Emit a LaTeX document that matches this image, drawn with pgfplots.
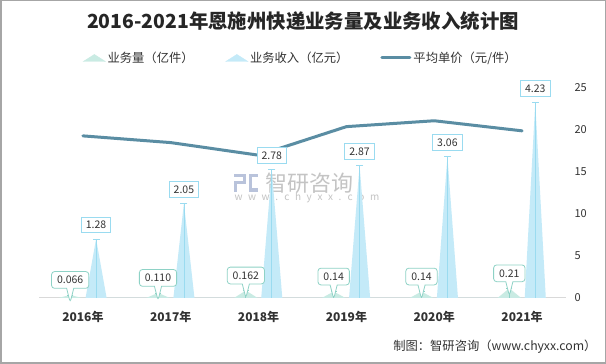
\documentclass[border=0pt]{standalone}
\usepackage{pgfplots}
\pgfplotsset{compat=1.18}
\usepackage{fontspec}
\setmainfont{Noto Sans CJK SC}
\usetikzlibrary{shapes.callouts}
\definecolor{volc}{HTML}{C9EBE3}
\definecolor{volb}{HTML}{8ED2C6}
\definecolor{revc}{HTML}{C4EAF8}
\definecolor{revl}{HTML}{9ADBF0}
\definecolor{linec}{HTML}{5A8DA3}
\definecolor{txt}{HTML}{333333}
\definecolor{wm}{HTML}{C4C4C4}
\definecolor{wmb}{HTML}{B9C3DB}
\begin{document}
\begin{tikzpicture}
\useasboundingbox (0pt,0pt) rectangle (606pt,364pt);
\fill[white] (0pt,0pt) rectangle (606pt,364pt);
\draw[draw=black!35, line width=1.5pt] (0.75pt,0.75pt) rectangle (605.25pt,363.25pt);
% title
\node[font=\bfseries\fontsize{19.4}{22}\selectfont, text=black!85] at (303pt,343pt) {2016-2021年恩施州快递业务量及业务收入统计图};
% watermark
\fill[wmb] (234pt,190pt) rectangle (246pt,186.5pt);
\fill[wmb] (243pt,186.5pt) rectangle (246pt,180pt);
\fill[wmb] (234pt,183pt) rectangle (246pt,180pt);
\fill[wmb] (234pt,180pt) rectangle (237pt,172pt);
\fill[wmb] (249pt,190pt) rectangle (258pt,186.5pt);
\fill[wmb] (249pt,186.5pt) rectangle (252pt,172pt);
\fill[wmb] (249pt,175.5pt) rectangle (258pt,172pt);
\node[font=\fontsize{22}{24}\selectfont, text=wm, anchor=west] at (262pt,181pt) {智研咨询};
\node[font=\fontsize{10}{12}\selectfont, text=wm, anchor=west] at (231pt,166pt) {w\,\, w\,\, w\,\, .\,\, c\,\, h\,\, y\,\, x\,\, x\,\, .\,\, c\,\, o\,\, m};
% footer
\node[font=\fontsize{12.3}{14}\selectfont, text=txt, anchor=east] at (600pt,17pt) {制图：智研咨询（www.chyxx.com）};

% ---- right axis: average price line + legend
\begin{axis}[
  at={(39pt,66pt)}, anchor=south west, scale only axis,
  width=527pt, height=210pt,
  xmin=-0.5, xmax=5.5, ymin=0, ymax=25,
  axis x line=none, axis y line*=right,
  y axis line style={draw=none},
  ytick={0,5,10,15,20,25}, major tick length=0,
  yticklabel style={font=\fontsize{11}{13}\selectfont, text=txt, anchor=west, xshift=5pt},
  /pgf/number format/assume math mode=true,
  legend columns=3,
  legend style={at={(0.497,1.143)}, anchor=center, draw=none, fill=none,
    font=\fontsize{12.3}{14}\selectfont, text=txt,
    /tikz/every even column/.append style={column sep=30pt}},
  legend cell align=left,
]
\addlegendimage{legend image code/.code={\fill[volc] (0pt,-3.5pt) -- (11pt,3.5pt) -- (22pt,-3.5pt) -- cycle;}}
\addlegendentry{业务量（亿件）}
\addlegendimage{legend image code/.code={\fill[revc] (0pt,-3.5pt) -- (11pt,3.5pt) -- (22pt,-3.5pt) -- cycle;}}
\addlegendentry{业务收入（亿元）}
\addplot[linec, line width=3pt, line join=round, line cap=round, mark=none,
  legend image code/.code={\draw[linec, line width=3pt] (0pt,0pt) -- (28pt,0pt);}]
  coordinates {(0,19.3) (1,18.5) (2,17.0) (3,20.4) (4,21.1) (5,19.9)};
\addlegendentry{平均单价（元/件）}
\end{axis}

% ---- left (hidden) axis: volume and revenue spikes
\begin{axis}[
  at={(39pt,66pt)}, anchor=south west, scale only axis,
  width=527pt, height=210pt,
  xmin=-0.5, xmax=5.5, ymin=0, ymax=4.55,
  axis x line*=bottom, axis y line=none,
  x axis line style={draw=black!15, line width=1pt, -},
  xtick={0,1,2,3,4,5},
  xticklabels={2016年,2017年,2018年,2019年,2020年,2021年},
  major tick length=0,
  xticklabel style={font=\bfseries\fontsize{12}{14}\selectfont, text=txt, yshift=-10pt},
  /pgf/number format/assume math mode=true,
  clip=false,
]
% volume spikes
\addplot[fill=volc, draw=none] coordinates {
  (-0.28,0) (-0.145,0.066) (-0.01,0)
  (0.72,0) (0.855,0.110) (0.99,0)
  (1.72,0) (1.855,0.162) (1.99,0)
  (2.72,0) (2.855,0.14) (2.99,0)
  (3.72,0) (3.855,0.14) (3.99,0)
  (4.72,0) (4.855,0.21) (4.99,0)} \closedcycle;
% revenue spikes
\addplot[fill=revc, draw=none] coordinates {
  (0.03,0) (0.15,1.28) (0.27,0)
  (1.03,0) (1.15,2.05) (1.27,0)
  (2.03,0) (2.15,2.78) (2.27,0)
  (3.03,0) (3.15,2.87) (3.27,0)
  (4.03,0) (4.15,3.06) (4.27,0)
  (5.03,0) (5.15,4.23) (5.27,0)} \closedcycle;
% revenue stems + labels
\addplot[ycomb, draw=revl, line width=0.8pt, mark=-, mark size=3.5pt, mark options={draw=revl, line width=0.8pt},
  nodes near coords={\pgfmathprintnumber[fixed, fixed zerofill, precision=2]{\pgfplotspointmeta}},
  every node near coord/.append style={anchor=center, yshift=14pt, draw=revl, fill=white, line width=0.8pt,
    inner xsep=4.5pt, inner ysep=4pt, font=\fontsize{10.5}{12}\selectfont, text=txt}]
  coordinates {(0.15,1.28) (1.15,2.05) (2.15,2.78) (3.15,2.87) (4.15,3.06) (5.15,4.23)};
% volume stems + callout labels
\addplot[ycomb, draw=volb, line width=0.8pt, mark=-, mark size=3pt, mark options={draw=volb, line width=0.8pt},
  point meta=explicit symbolic,
  nodes near coords,
  every node near coord/.append style={anchor=center, yshift=15pt, rectangle callout, rounded corners=3pt,
    callout relative pointer={(canvas cs:x=0pt,y=-14pt)}, draw=volb, fill=white, line width=0.8pt,
    inner xsep=5.5pt, inner ysep=4.5pt, font=\fontsize{10.5}{12}\selectfont, text=txt}]
  coordinates {(-0.145,0.066)[0.066] (0.855,0.110)[0.110] (1.855,0.162)[0.162] (2.855,0.14)[0.14] (3.855,0.14)[0.14] (4.855,0.21)[0.21]};
\end{axis}
\end{tikzpicture}
\end{document}
